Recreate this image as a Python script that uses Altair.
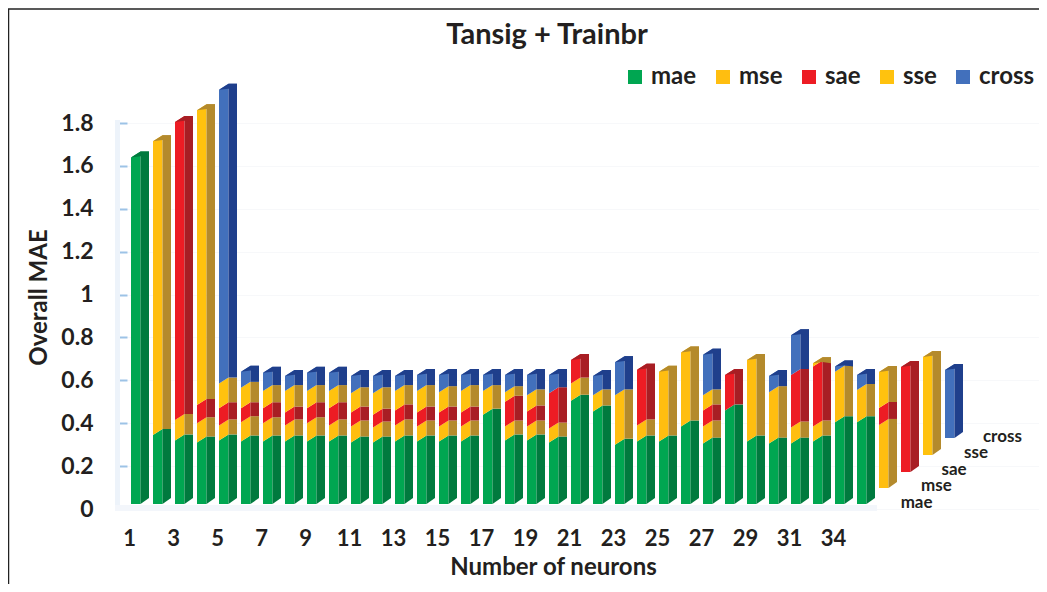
import altair as alt
import pandas as pd

SERIES = ["mae", "mse", "sae", "sse", "cross"]
FRONT = ["#00A651", "#FFBE10", "#ED1C24", "#FFC20E", "#4270BC"]
SIDE = ["#007A3E", "#B48A2C", "#A81E24", "#B48A2C", "#1F3F8C"]

floor = [0.023] * 34 + [0.098, 0.173, 0.252, 0.331]
mae = [1.64, .345, .32, .31, .32, .315, .315, .315, .315, .315, .31, .31, .315, .315, .315, .315, .44, .32, .32, .31,
       .505, .455, .30, .315, .315, .385, .305, .46, .315, .305, .305, .315, .405, .405, 0, 0, 0, 0]
mse = [0, 1.37, .095, .09, .07, .09, .085, .075, .085, .075, .075, .07, .075, .07, .07, .07, 0, .065, .065, .065,
       .08, 0, .23, .075, .325, .345, .08, 0, .38, .24, .075, .07, .235, .15, .294, 0, 0, 0]
sae = [0, 0, 1.39, .085, .08, .065, .07, .06, .07, .08, .065, .06, .07, .065, .065, .065, 0, .115, .07, .165,
       .11, 0, 0, .26, 0, 0, .075, .165, 0, 0, .245, .28, 0, 0, .079, .489, 0, 0]
sse = [0, 0, 0, 1.375, .115, .095, .08, .10, .08, .08, .09, .10, .09, .10, .095, .10, .11, .045, .075, 0,
       0, .075, 0, 0, 0, 0, .07, 0, 0, 0, 0, .015, 0, 0, .168, 0, .457, 0]
cross = [0, 0, 0, 0, 1.37, .075, .085, .07, .085, .085, .08, .08, .07, .075, .08, .075, .075, .08, .095, .085,
         0, .09, .155, 0, 0, 0, .19, 0, 0, .075, .185, 0, .025, .07, 0, 0, 0, .317]

depth_names = ["mae", "mse", "sae", "sse", "cross"]
depth_slot = [35.8, 36.7, 37.5, 38.5, 39.7]
depth_val = [0.028, 0.107, 0.182, 0.261, 0.336]

tick_slots = list(range(0, 33, 2))
y_ticks = [0, .2, .4, .6, .8, 1, 1.2, 1.4, 1.6, 1.8]

PX_X = 22.0
PX_Y = 214.4
LEFT = 2 / PX_X
W = 9.5 / PX_X
D = 8.5 / PX_X
R = 6 / PX_Y

table = dict(zip(SERIES, [mae, mse, sae, sse, cross]))
front, side, caps = [], [], []
for i, base in enumerate(floor):
    x0 = i + LEFT
    bot = base
    last = None
    for s in SERIES:
        h = table[s][i]
        if h <= 0:
            continue
        t = h if s == "mae" else bot + h
        first = last is None
        key = f"{i}-{s}"
        low_a = bot if first else bot + R
        front += [dict(x=x0, y=bot, y2=t, s=s, k=key), dict(x=x0 + W, y=low_a, y2=t + R, s=s, k=key)]
        side += [dict(x=x0 + W, y=low_a, y2=t + R, s=s, k=key), dict(x=x0 + W + D, y=bot + R, y2=t + R, s=s, k=key)]
        bot = t
        last = s
    key = f"{i}-cap"
    caps += [dict(x=x0, y=bot, y2=bot, s=last, k=key),
             dict(x=x0 + W, y=bot + .2 * R, y2=bot + R, s=last, k=key),
             dict(x=x0 + W + D, y=bot, y2=bot + R, s=last, k=key)]

PLOT_W, PLOT_H = 912, 449
xs = alt.Scale(domain=[-2 / PX_X, (PLOT_W - 2) / PX_X], nice=False, zero=False)
ys = alt.Scale(domain=[0, PLOT_H / PX_Y], nice=False, zero=False)
FONT = "Lato"
INK = "#231F20"

x_axis = alt.Axis(
    values=tick_slots, labelExpr="datum.value == 32 ? '34' : '' + (datum.value + 1)", ticks=False, domain=False,
    grid=False, labelFont=FONT, labelFontWeight="bold", labelFontSize=22, labelColor=INK, labelPadding=19,
    labelAlign="center", labelFlush=False, titleFont=FONT, titleFontWeight="bold", titleFontSize=24, titleColor=INK,
    titleX=426, titleY=58, titleAnchor="middle", titleBaseline="middle", title="Number of neurons")
y_axis = alt.Axis(
    values=y_ticks, labelExpr="'' + datum.value", tickSize=10, tickWidth=2, tickColor="#9DC3E6", domain=False,
    grid=True, gridColor="#F7F8FA", labelFont=FONT, labelFontWeight="bold", labelFontSize=23, labelColor=INK,
    labelPadding=24, titleFont=FONT, titleFontWeight="bold", titleFontSize=24, titleColor=INK,
    titleX=-88, titleY=237, titleAngle=270, titleAnchor="middle", titleBaseline="middle", title="Overall MAE")
X = alt.X("x:Q", scale=xs, axis=x_axis)
Y = alt.Y("y:Q", scale=ys, stack=None, axis=y_axis)


def faces(rows, rng, legend=None):
    return alt.Chart(pd.DataFrame(rows)).mark_area(interpolate="linear", strokeWidth=0).encode(
        x=X, y=Y, y2="y2:Q", detail="k:N",
        color=alt.Color("s:N", scale=alt.Scale(domain=SERIES, range=rng), legend=legend),
    )


legend = alt.Legend(
    title=None, orient="none", legendX=496, legendY=5, direction="horizontal", columns=5, gridAlign="each",
    symbolType="square", symbolSize=196, symbolStrokeWidth=0, labelFont=FONT, labelFontWeight="bold",
    labelFontSize=24, labelColor=INK, columnPadding=14, labelOffset=4,
)

wall = alt.Chart(pd.DataFrame({"a": [0]})).mark_rect(color="#EDF3FA").encode(
    x=alt.value(-12), x2=alt.value(-7), y=alt.value(60), y2=alt.value(451))
ground = alt.Chart(pd.DataFrame({"a": [0]})).mark_rect(color="#F3F6FB").encode(
    x=alt.value(-12), x2=alt.value(750), y=alt.value(445), y2=alt.value(451))
frame_l = alt.Chart(pd.DataFrame({"a": [0]})).mark_rule(color="#222222", strokeWidth=1.5).encode(
    x=alt.value(-118.5), y=alt.value(-51), y2=alt.value(524))
frame_t = alt.Chart(pd.DataFrame({"a": [0]})).mark_rule(color="#222222", strokeWidth=1.5).encode(
    x=alt.value(-119), x2=alt.value(912), y=alt.value(-51))

depth = alt.Chart(pd.DataFrame({"t": depth_names, "x": depth_slot, "y": depth_val})).mark_text(
    font=FONT, fontWeight="bold", fontSize=17, color=INK).encode(x=X, y=Y, text="t:N")

chart = alt.layer(
    wall, ground, frame_l, frame_t,
    faces(front, FRONT, legend),
    faces(side, SIDE),
    faces(caps, SIDE),
    depth,
).resolve_scale(color="independent").properties(
    width=PLOT_W, height=PLOT_H,
    title=alt.TitleParams("Tansig + Trainbr", font=FONT, fontWeight="bold", fontSize=29, color=INK,
                          anchor="middle", dx=-36, dy=42, offset=0),
    autosize=alt.AutoSizeParams(type="none"),
    padding={"left": 119, "top": 52, "right": 0, "bottom": 75},
).configure_view(stroke=None)

chart.save("out.html", embed_options={"renderer": "svg", "actions": False})
